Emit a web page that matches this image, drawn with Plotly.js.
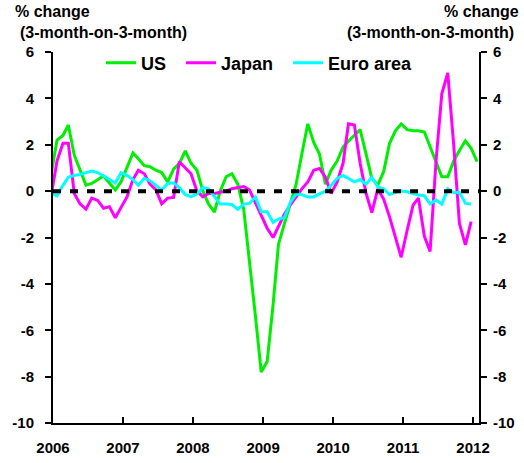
<!DOCTYPE html>
<html>
<head>
<meta charset="utf-8">
<script src="https://cdn.plot.ly/plotly-3.0.1.min.js"></script>
<style>html,body{margin:0;padding:0;background:#fff;}#chart{width:524px;height:463px;}</style>
</head>
<body>
<div id="chart"></div>
<script>
// Monthly series, first value = Dec 2005 (clipped at the axis edge)
var startYear = 2005, startMonth = 12;
var seriesNames = ['US', 'Japan', 'Euro area'];
var usValues = [0.7, 2.2, 2.4, 2.85, 1.55, 0.95, 0.26, 0.33, 0.5, 0.65, 0.35, 0.05, 0.4,
  1.0, 1.65, 1.4, 1.1, 1.05, 0.9, 0.8, 0.4, 0.95, 1.2, 1.74, 1.2,
  0.9, 0.0, -0.55, -0.9, 0.0, 0.62, 0.75, 0.3, -0.8, -3.0, -5.4, -7.8,
  -7.35, -4.9, -2.3, -1.4, -0.6, 0.3, 1.6, 2.9, 2.1, 1.6, 0.3, 0.9,
  1.3, 1.9, 2.15, 2.4, 2.65, 1.6, 0.55, 0.26, 0.85, 2.05, 2.6, 2.9,
  2.65, 2.6, 2.6, 2.55, 1.9, 1.2, 0.62, 0.62, 1.3, 1.75, 2.17, 1.85,
  1.27];
var japanValues = [-0.2, 1.3, 2.06, 2.06, -0.1, -0.55, -0.78, -0.3, -0.4, -0.74, -0.67, -1.15, -0.7,
  -0.25, 0.5, 0.9, 0.75, 0.3, 0.05, -0.55, -0.3, -0.27, 1.27, 1.0, 0.75,
  0.0, -0.25, -0.1, -0.1, -0.05, 0.0, 0.1, 0.15, 0.2, 0.05, -0.5, -1.1,
  -1.6, -2.0, -1.5, -1.0, -0.6, -0.24, 0.1, 0.4, 0.9, 0.98, 0.6, -0.1,
  0.4, 1.2, 2.9, 2.85, 1.2, -0.1, -0.93, 0.1, -0.35, -1.1, -2.0, -2.85,
  -1.7, -0.6, -0.3, -1.95, -2.6, 1.3, 4.2, 5.1, 2.0, -1.4, -2.32, -1.32];
var euroValues = [-0.1, -0.2, 0.25, 0.6, 0.68, 0.72, 0.8, 0.87, 0.8, 0.65, 0.5, 0.35, 0.8,
  0.68, 0.5, 0.25, 0.55, 0.45, 0.25, 0.05, 0.33, 0.36, 0.15, -0.15, -0.24,
  -0.12, 0.16, 0.1, -0.24, -0.56, -0.56, -0.58, -0.78, -0.56, -0.53, -0.25, -0.89,
  -0.89, -1.35, -1.2, -1.15, -0.5, -0.12, -0.15, -0.25, -0.25, -0.12, 0.0, 0.25,
  0.55, 0.68, 0.55, 0.4, 0.5, 0.3, 0.6, 0.18, 0.1, -0.15, -0.05, 0.0,
  -0.03, -0.1, -0.17, -0.2, -0.55, -0.38, -0.56, 0.1, -0.07, -0.05, -0.53, -0.56];
var yearLabels = ['2006', '2007', '2008', '2009', '2010', '2011', '2012'];
var yTicks = [6, 4, 2, 0, -2, -4, -6, -8, -10];

function monthDates(n) {
  var out = [];
  for (var i = 0; i < n; i++) {
    var m = startMonth - 1 + i;
    var y = startYear + Math.floor(m / 12);
    var mm = (m % 12) + 1;
    out.push(y + '-' + (mm < 10 ? '0' : '') + mm + '-22');
  }
  return out;
}

var FONT = 'Liberation Sans, Arial, sans-serif';
var PAD = '\u00a0\u00a0';
var traces = [
  {x: monthDates(usValues.length), y: usValues, name: seriesNames[0] + PAD, type: 'scatter', mode: 'lines',
   line: {color: '#00ee00', width: 3}},
  {x: monthDates(japanValues.length), y: japanValues, name: seriesNames[1] + PAD, type: 'scatter', mode: 'lines',
   line: {color: '#ff00ff', width: 3}},
  {x: monthDates(euroValues.length), y: euroValues, name: seriesNames[2], type: 'scatter', mode: 'lines',
   line: {color: '#00ffff', width: 3}},
  {x: [], y: [], yaxis: 'y2', showlegend: false, type: 'scatter'}
];

var tickFont = {family: FONT, size: 15, color: '#000', weight: 'bold'};
var yaxisBase = {
  range: [-10, 6], tickvals: yTicks, ticktext: yTicks.map(String),
  showgrid: false, zeroline: false, showline: true, linecolor: '#000', linewidth: 2,
  ticks: 'outside', ticklen: 6, tickwidth: 2, tickcolor: '#000', tickfont: tickFont,
  fixedrange: true
};
var titleFont = {family: FONT, size: 16, color: '#000', weight: 'bold'};
var layout = {
  width: 524, height: 463,
  margin: {l: 53, r: 45, t: 52, b: 40},
  paper_bgcolor: '#fff', plot_bgcolor: '#fff',
  font: {family: FONT, color: '#000'},
  showlegend: true,
  legend: {orientation: 'h', x: 0.1127, xanchor: 'left', y: 0.97, yanchor: 'middle',
           font: {family: FONT, size: 18, color: '#000', weight: 'bold'},
           bgcolor: 'rgba(0,0,0,0)', tracegroupgap: 0},
  xaxis: {
    type: 'date', range: ['2006-01-01', '2012-02-01'],
    tickvals: yearLabels.map(function (y) { return y + '-01-01'; }), ticktext: yearLabels,
    showgrid: false, zeroline: false, showline: true, linecolor: '#000', linewidth: 2,
    ticks: 'inside', ticklen: 6, tickwidth: 2, tickcolor: '#000', tickfont: tickFont,
    ticklabelstandoff: 10
  },
  yaxis: Object.assign({}, yaxisBase, {side: 'left', ticklabelstandoff: 8}),
  yaxis2: Object.assign({}, yaxisBase, {side: 'right', overlaying: 'y', anchor: 'x', ticklabelstandoff: 3}),
  shapes: [{type: 'line', xref: 'paper', x0: 0, x1: 1, yref: 'y', y0: 0, y1: 0, layer: 'above',
            line: {color: '#000', width: 4, dash: '8px,9px'}}],
  annotations: [
    {text: '% change', xref: 'paper', yref: 'paper', x: -0.093, y: 1.11, xanchor: 'left', yanchor: 'middle',
     showarrow: false, font: titleFont},
    {text: '(3-month-on-3-month)', xref: 'paper', yref: 'paper', x: -0.083, y: 1.053, xanchor: 'left', yanchor: 'middle',
     showarrow: false, font: titleFont},
    {text: '% change', xref: 'paper', yref: 'paper', x: 1.098, y: 1.11, xanchor: 'right', yanchor: 'middle',
     showarrow: false, font: titleFont},
    {text: '(3-month-on-3-month)', xref: 'paper', yref: 'paper', x: 1.088, y: 1.053, xanchor: 'right', yanchor: 'middle',
     showarrow: false, font: titleFont}
  ]
};
Plotly.newPlot('chart', traces, layout, {displayModeBar: false, staticPlot: true});
</script>
</body>
</html>
